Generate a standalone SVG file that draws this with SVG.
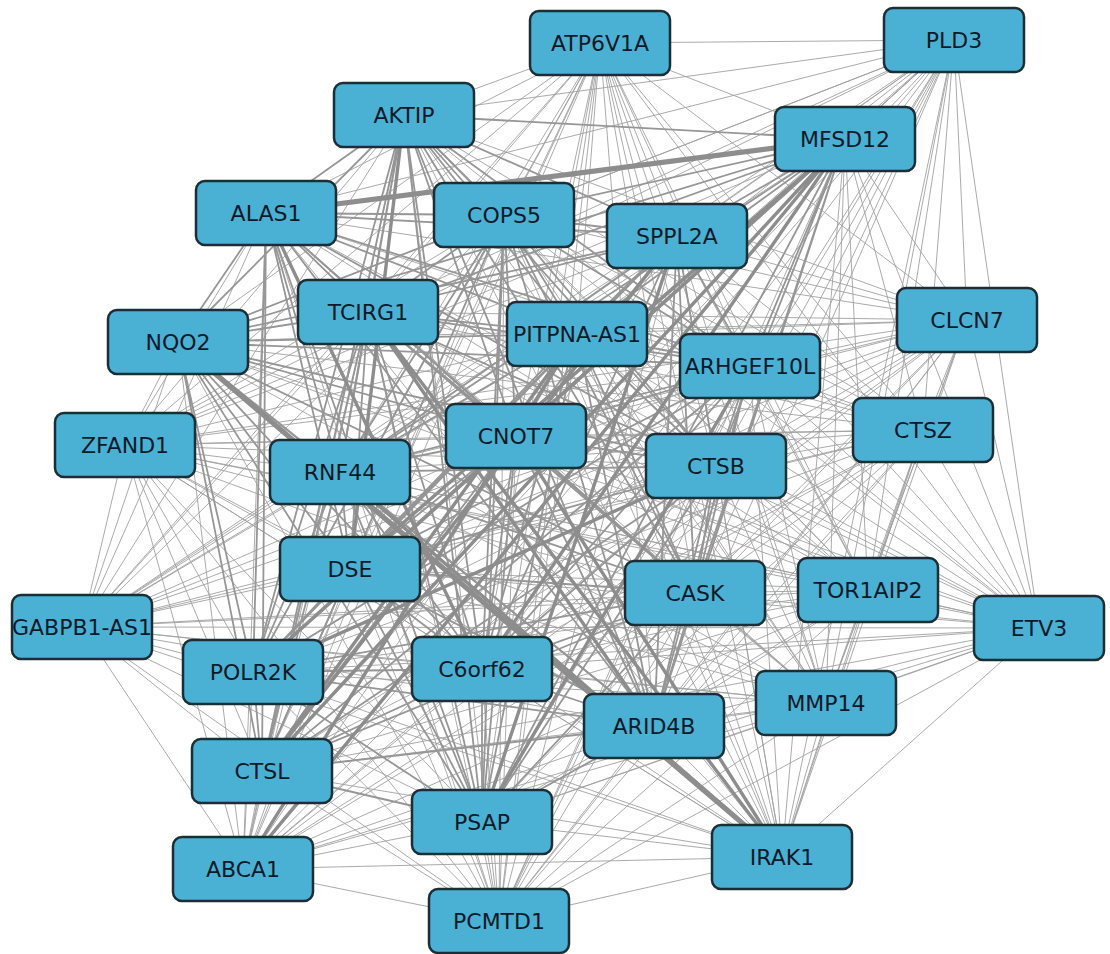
<svg xmlns="http://www.w3.org/2000/svg" width="1110" height="954" viewBox="0 0 1110 954">
<style>
.e{fill:none;stroke:#a0a0a0;stroke-width:0.9}
.m{fill:none;stroke:#969696;stroke-width:1.8}
.k3{fill:none;stroke:#8d8d8d;stroke-width:3.4}
.k5{fill:none;stroke:#8d8d8d;stroke-width:5.2}
.node rect{fill:#4bb1d4;stroke:#1b2e35;stroke-width:2.5}
.node text{font-family:"DejaVu Sans","Liberation Sans",sans-serif;font-size:22px;fill:#0c1a28;text-anchor:middle}
</style>
<rect width="1110" height="954" fill="#ffffff"/>
<g id="connectors">
<path class="e" d="M600 43 954 40M600 43 404 115M600 43 845 139M600 43 266 213M600 43 504 215M600 43 677 236M600 43 368 312M600 43 577 334M600 43 967 320M600 43 178 342M600 43 750 366M600 43 125 445M600 43 516 436M600 43 923 430M600 43 340 472M600 43 716 466M600 43 350 569M600 43 695 593M600 43 868 590M600 43 82 627M600 43 1039 628M600 43 253 672M600 43 482 669M600 43 654 726M600 43 826 703M600 43 262 771M600 43 482 822M600 43 243 869M600 43 782 857M600 43 499 921"/>
<path class="e" d="M954 40 404 115M954 40 845 139M954 40 266 213M954 40 504 215M954 40 677 236M954 40 368 312M954 40 577 334M954 40 967 320M954 40 178 342M954 40 750 366M954 40 125 445M954 40 516 436M954 40 923 430M954 40 340 472M954 40 716 466M954 40 350 569M954 40 695 593M954 40 868 590M954 40 82 627M954 40 1039 628M954 40 253 672M954 40 482 669M954 40 654 726M954 40 826 703M954 40 262 771M954 40 482 822M954 40 243 869M954 40 782 857M954 40 499 921"/>
<path class="e" d="M404 115 967 320M404 115 125 445M404 115 923 430M404 115 868 590M404 115 82 627M404 115 1039 628M404 115 826 703M404 115 243 869M404 115 782 857M404 115 499 921"/>
<path class="e" d="M845 139 967 320M845 139 125 445M845 139 923 430M845 139 868 590M845 139 82 627M845 139 1039 628M845 139 826 703M845 139 782 857M845 139 499 921"/>
<path class="e" d="M266 213 967 320M266 213 125 445M266 213 923 430M266 213 868 590M266 213 82 627M266 213 1039 628M266 213 826 703M266 213 243 869M266 213 782 857M266 213 499 921"/>
<path class="e" d="M504 215 967 320M504 215 125 445M504 215 923 430M504 215 868 590M504 215 82 627M504 215 1039 628M504 215 826 703M504 215 243 869M504 215 782 857M504 215 499 921"/>
<path class="e" d="M677 236 967 320M677 236 125 445M677 236 923 430M677 236 868 590M677 236 82 627M677 236 1039 628M677 236 826 703M677 236 243 869M677 236 782 857M677 236 499 921"/>
<path class="e" d="M368 312 967 320M368 312 125 445M368 312 923 430M368 312 868 590M368 312 82 627M368 312 1039 628M368 312 826 703M368 312 243 869M368 312 499 921"/>
<path class="e" d="M577 334 967 320M577 334 125 445M577 334 923 430M577 334 868 590M577 334 82 627M577 334 1039 628M577 334 826 703M577 334 782 857M577 334 499 921"/>
<path class="e" d="M967 320 178 342M967 320 750 366M967 320 125 445M967 320 516 436M967 320 923 430M967 320 340 472M967 320 716 466M967 320 350 569M967 320 695 593M967 320 868 590M967 320 82 627M967 320 1039 628M967 320 253 672M967 320 482 669M967 320 654 726M967 320 826 703M967 320 262 771M967 320 482 822M967 320 243 869M967 320 782 857M967 320 499 921"/>
<path class="e" d="M178 342 125 445M178 342 923 430M178 342 868 590M178 342 82 627M178 342 1039 628M178 342 826 703M178 342 243 869M178 342 499 921"/>
<path class="e" d="M750 366 125 445M750 366 923 430M750 366 868 590M750 366 82 627M750 366 1039 628M750 366 826 703M750 366 243 869M750 366 782 857M750 366 499 921"/>
<path class="e" d="M125 445 516 436M125 445 923 430M125 445 340 472M125 445 716 466M125 445 350 569M125 445 695 593M125 445 868 590M125 445 82 627M125 445 1039 628M125 445 253 672M125 445 482 669M125 445 654 726M125 445 826 703M125 445 262 771M125 445 482 822M125 445 243 869M125 445 782 857M125 445 499 921"/>
<path class="e" d="M516 436 923 430M516 436 868 590M516 436 82 627M516 436 1039 628M516 436 826 703M516 436 243 869M516 436 499 921"/>
<path class="e" d="M923 430 340 472M923 430 716 466M923 430 350 569M923 430 695 593M923 430 868 590M923 430 82 627M923 430 1039 628M923 430 253 672M923 430 482 669M923 430 654 726M923 430 826 703M923 430 262 771M923 430 482 822M923 430 243 869M923 430 782 857M923 430 499 921"/>
<path class="e" d="M340 472 868 590M340 472 82 627M340 472 1039 628M340 472 826 703M340 472 243 869M340 472 499 921"/>
<path class="e" d="M716 466 868 590M716 466 82 627M716 466 1039 628M716 466 826 703M716 466 243 869M716 466 782 857M716 466 499 921"/>
<path class="e" d="M350 569 868 590M350 569 82 627M350 569 1039 628M350 569 826 703M350 569 243 869M350 569 782 857M350 569 499 921"/>
<path class="e" d="M695 593 868 590M695 593 82 627M695 593 1039 628M695 593 826 703M695 593 243 869M695 593 782 857M695 593 499 921"/>
<path class="e" d="M868 590 82 627M868 590 1039 628M868 590 253 672M868 590 482 669M868 590 654 726M868 590 826 703M868 590 262 771M868 590 482 822M868 590 243 869M868 590 782 857M868 590 499 921"/>
<path class="e" d="M82 627 1039 628M82 627 253 672M82 627 482 669M82 627 654 726M82 627 826 703M82 627 262 771M82 627 482 822M82 627 243 869M82 627 782 857M82 627 499 921"/>
<path class="e" d="M1039 628 253 672M1039 628 482 669M1039 628 654 726M1039 628 826 703M1039 628 262 771M1039 628 482 822M1039 628 243 869M1039 628 782 857M1039 628 499 921"/>
<path class="e" d="M253 672 826 703M253 672 243 869M253 672 782 857M253 672 499 921M482 669 826 703M482 669 243 869M482 669 782 857M482 669 499 921M654 726 826 703M654 726 243 869M654 726 782 857M654 726 499 921"/>
<path class="e" d="M826 703 262 771M826 703 482 822M826 703 243 869M826 703 782 857M826 703 499 921M262 771 243 869M262 771 782 857M262 771 499 921M482 822 243 869M482 822 782 857M482 822 499 921M243 869 782 857M243 869 499 921M782 857 499 921"/>
<path class="m" d="M404 115 845 139M404 115 266 213M404 115 504 215M404 115 677 236M404 115 368 312M404 115 577 334M404 115 178 342M404 115 750 366M404 115 516 436M404 115 340 472M404 115 716 466M404 115 695 593M404 115 253 672M404 115 482 669M404 115 654 726M404 115 262 771M404 115 482 822"/>
<path class="m" d="M845 139 504 215M845 139 677 236M845 139 368 312M845 139 577 334M845 139 178 342M845 139 750 366M845 139 340 472M845 139 716 466M845 139 695 593M845 139 654 726M845 139 482 822"/>
<path class="m" d="M266 213 504 215M266 213 677 236M266 213 368 312M266 213 577 334M266 213 178 342M266 213 750 366M266 213 516 436M266 213 340 472M266 213 716 466M266 213 350 569M266 213 695 593M266 213 253 672M266 213 654 726M266 213 262 771M266 213 482 822"/>
<path class="m" d="M504 215 677 236M504 215 368 312M504 215 577 334M504 215 178 342M504 215 750 366M504 215 516 436M504 215 340 472M504 215 716 466M504 215 350 569M504 215 695 593M504 215 253 672M504 215 482 669M504 215 654 726M504 215 262 771M504 215 482 822"/>
<path class="m" d="M677 236 368 312M677 236 577 334M677 236 178 342M677 236 750 366M677 236 516 436M677 236 340 472M677 236 716 466M677 236 350 569M677 236 695 593M677 236 253 672M677 236 482 669M677 236 654 726"/>
<path class="m" d="M368 312 577 334M368 312 178 342M368 312 750 366M368 312 516 436M368 312 340 472M368 312 716 466M368 312 350 569M368 312 695 593M368 312 253 672M368 312 482 669M368 312 262 771M368 312 482 822"/>
<path class="m" d="M577 334 178 342M577 334 750 366M577 334 516 436M577 334 340 472M577 334 716 466M577 334 350 569M577 334 695 593M577 334 253 672M577 334 482 669M577 334 654 726M577 334 482 822"/>
<path class="m" d="M178 342 750 366M178 342 516 436M178 342 340 472M178 342 716 466M178 342 350 569M178 342 695 593M178 342 253 672M178 342 482 669M178 342 654 726M178 342 262 771M178 342 482 822"/>
<path class="m" d="M750 366 516 436M750 366 340 472M750 366 716 466M750 366 350 569M750 366 695 593M750 366 253 672M750 366 482 669M750 366 654 726M750 366 262 771"/>
<path class="m" d="M516 436 340 472M516 436 716 466M516 436 350 569M516 436 695 593M516 436 482 669M516 436 654 726M516 436 262 771M516 436 482 822"/>
<path class="m" d="M340 472 716 466M340 472 350 569M340 472 695 593M340 472 253 672M340 472 482 669M340 472 654 726M340 472 262 771M340 472 482 822"/>
<path class="m" d="M716 466 350 569M716 466 695 593M716 466 482 669M716 466 654 726M716 466 262 771M716 466 482 822"/>
<path class="m" d="M350 569 695 593M350 569 253 672M350 569 482 669M350 569 654 726M350 569 262 771M350 569 482 822"/>
<path class="m" d="M695 593 253 672M695 593 482 669M695 593 654 726M695 593 262 771M695 593 482 822"/>
<path class="m" d="M253 672 482 669M253 672 654 726M253 672 262 771M253 672 482 822M482 669 654 726M482 669 262 771M482 669 482 822M654 726 262 771M654 726 482 822M262 771 482 822"/>
<path class="k3" d="M404 115 350 569M845 139 516 436M845 139 350 569M845 139 253 672M845 139 482 669M845 139 262 771M845 139 243 869M266 213 482 669M677 236 262 771M677 236 482 822M368 312 654 726M368 312 782 857M577 334 262 771M577 334 243 869M750 366 482 822M516 436 253 672M516 436 782 857M340 472 782 857M716 466 253 672"/>
<path class="k5" d="M845 139 266 213M178 342 782 857"/>
</g>
<g id="n-ATP6V1A" class="node"><rect x="530" y="11" width="140" height="64" rx="9"/><text x="600" y="51">ATP6V1A</text></g>
<g id="n-PLD3" class="node"><rect x="884" y="8" width="140" height="64" rx="9"/><text x="954" y="48">PLD3</text></g>
<g id="n-AKTIP" class="node"><rect x="334" y="83" width="140" height="64" rx="9"/><text x="404" y="123">AKTIP</text></g>
<g id="n-MFSD12" class="node"><rect x="775" y="107" width="140" height="64" rx="9"/><text x="845" y="147">MFSD12</text></g>
<g id="n-ALAS1" class="node"><rect x="196" y="181" width="140" height="64" rx="9"/><text x="266" y="221">ALAS1</text></g>
<g id="n-COPS5" class="node"><rect x="434" y="183" width="140" height="64" rx="9"/><text x="504" y="223">COPS5</text></g>
<g id="n-SPPL2A" class="node"><rect x="607" y="204" width="140" height="64" rx="9"/><text x="677" y="244">SPPL2A</text></g>
<g id="n-TCIRG1" class="node"><rect x="298" y="280" width="140" height="64" rx="9"/><text x="368" y="320">TCIRG1</text></g>
<g id="n-PITPNA-AS1" class="node"><rect x="507" y="302" width="140" height="64" rx="9"/><text x="577" y="342">PITPNA-AS1</text></g>
<g id="n-CLCN7" class="node"><rect x="897" y="288" width="140" height="64" rx="9"/><text x="967" y="328">CLCN7</text></g>
<g id="n-NQO2" class="node"><rect x="108" y="310" width="140" height="64" rx="9"/><text x="178" y="350">NQO2</text></g>
<g id="n-ARHGEF10L" class="node"><rect x="680" y="334" width="140" height="64" rx="9"/><text x="750" y="374">ARHGEF10L</text></g>
<g id="n-ZFAND1" class="node"><rect x="55" y="413" width="140" height="64" rx="9"/><text x="125" y="453">ZFAND1</text></g>
<g id="n-CNOT7" class="node"><rect x="446" y="404" width="140" height="64" rx="9"/><text x="516" y="444">CNOT7</text></g>
<g id="n-CTSZ" class="node"><rect x="853" y="398" width="140" height="64" rx="9"/><text x="923" y="438">CTSZ</text></g>
<g id="n-RNF44" class="node"><rect x="270" y="440" width="140" height="64" rx="9"/><text x="340" y="480">RNF44</text></g>
<g id="n-CTSB" class="node"><rect x="646" y="434" width="140" height="64" rx="9"/><text x="716" y="474">CTSB</text></g>
<g id="n-DSE" class="node"><rect x="280" y="537" width="140" height="64" rx="9"/><text x="350" y="577">DSE</text></g>
<g id="n-CASK" class="node"><rect x="625" y="561" width="140" height="64" rx="9"/><text x="695" y="601">CASK</text></g>
<g id="n-TOR1AIP2" class="node"><rect x="798" y="558" width="140" height="64" rx="9"/><text x="868" y="598">TOR1AIP2</text></g>
<g id="n-GABPB1-AS1" class="node"><rect x="12" y="595" width="140" height="64" rx="9"/><text x="82" y="635">GABPB1-AS1</text></g>
<g id="n-ETV3" class="node"><rect x="974" y="596" width="130" height="64" rx="9"/><text x="1039" y="636">ETV3</text></g>
<g id="n-POLR2K" class="node"><rect x="183" y="640" width="140" height="64" rx="9"/><text x="253" y="680">POLR2K</text></g>
<g id="n-C6orf62" class="node"><rect x="412" y="637" width="140" height="64" rx="9"/><text x="482" y="677">C6orf62</text></g>
<g id="n-ARID4B" class="node"><rect x="584" y="694" width="140" height="64" rx="9"/><text x="654" y="734">ARID4B</text></g>
<g id="n-MMP14" class="node"><rect x="756" y="671" width="140" height="64" rx="9"/><text x="826" y="711">MMP14</text></g>
<g id="n-CTSL" class="node"><rect x="192" y="739" width="140" height="64" rx="9"/><text x="262" y="779">CTSL</text></g>
<g id="n-PSAP" class="node"><rect x="412" y="790" width="140" height="64" rx="9"/><text x="482" y="830">PSAP</text></g>
<g id="n-ABCA1" class="node"><rect x="173" y="837" width="140" height="64" rx="9"/><text x="243" y="877">ABCA1</text></g>
<g id="n-IRAK1" class="node"><rect x="712" y="825" width="140" height="64" rx="9"/><text x="782" y="865">IRAK1</text></g>
<g id="n-PCMTD1" class="node"><rect x="429" y="889" width="140" height="64" rx="9"/><text x="499" y="929">PCMTD1</text></g>
</svg>
